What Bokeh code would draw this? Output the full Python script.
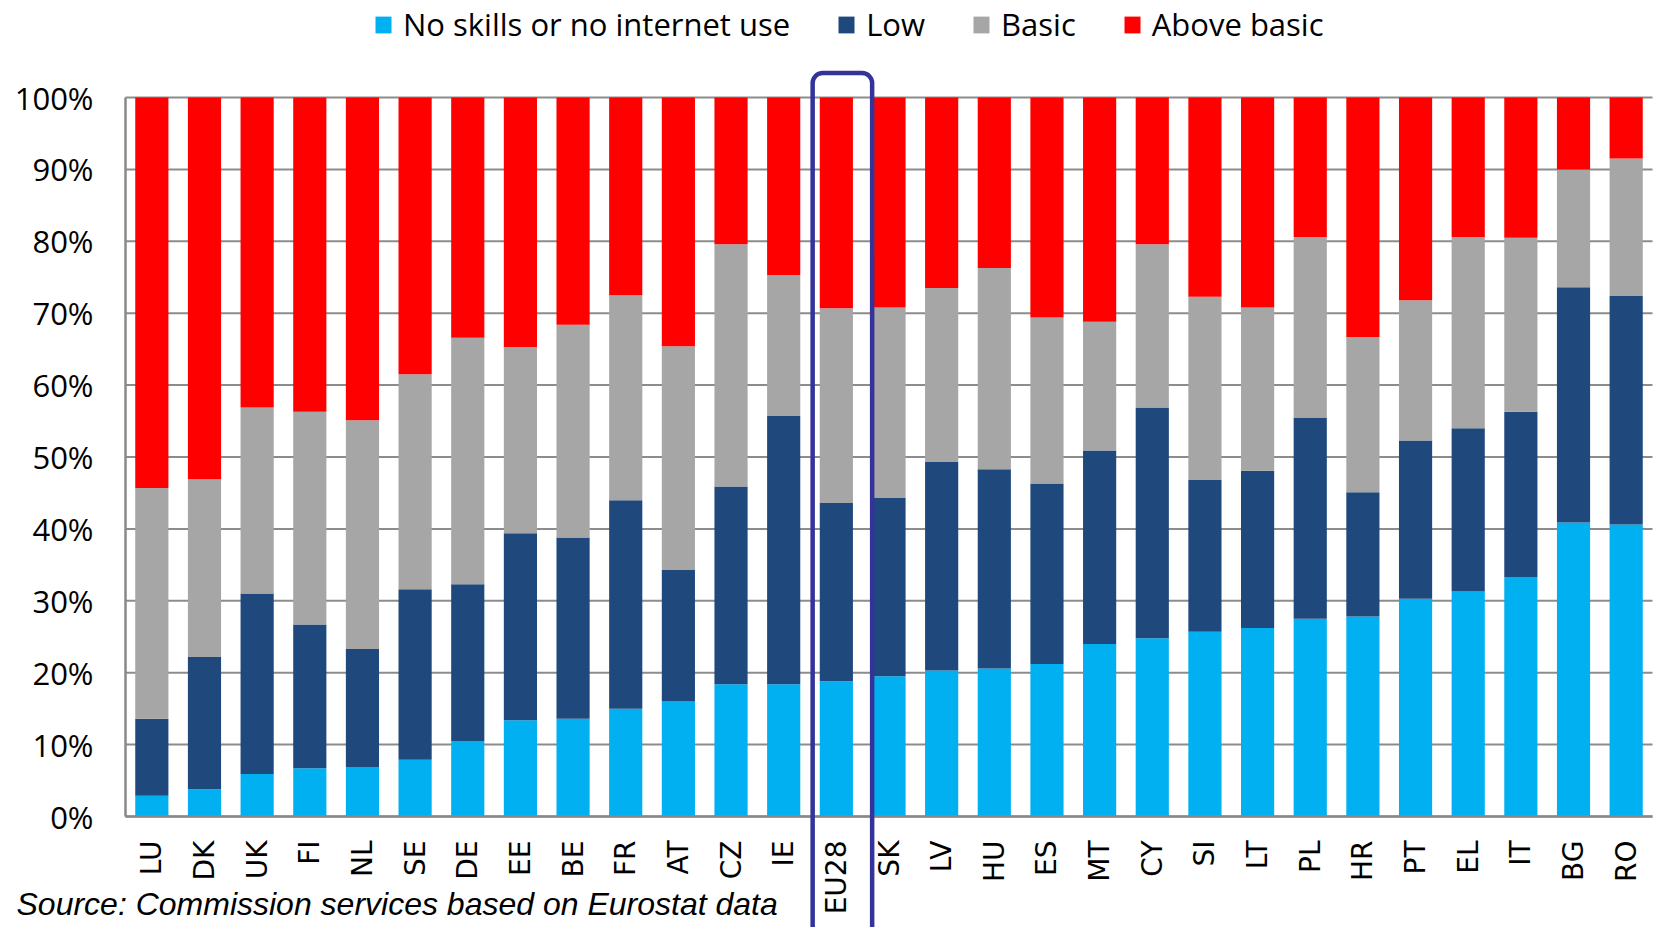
import math
from bokeh.plotting import figure
from bokeh.models import (Range1d, FixedTicker, PrintfTickFormatter,
                          Legend, LegendItem, BoxAnnotation, Label, ColumnDataSource)
from bokeh.embed import file_html
from bokeh.resources import INLINE

# ---------------- data ----------------
countries = ["LU", "DK", "UK", "FI", "NL", "SE", "DE", "EE", "BE", "FR", "AT", "CZ", "IE",
             "EU28", "SK", "LV", "HU", "ES", "MT", "CY", "SI", "LT", "PL", "HR", "PT",
             "EL", "IT", "BG", "RO"]
no_skills = [2.9, 3.8, 5.9, 6.7, 6.9, 7.9, 10.5, 13.4, 13.6, 15.0, 16.0, 18.4, 18.4,
             18.8, 19.5, 20.3, 20.6, 21.2, 24.0, 24.8, 25.7, 26.2, 27.5, 27.8, 30.3,
             31.3, 33.3, 40.9, 40.6]
low = [10.7, 18.4, 25.1, 20.0, 16.4, 23.7, 21.8, 26.0, 25.2, 29.0, 18.3, 27.5, 37.3,
       24.8, 24.8, 29.0, 27.7, 25.1, 26.9, 32.1, 21.1, 21.9, 28.0, 17.3, 22.0,
       22.7, 23.0, 32.7, 31.8]
basic = [32.1, 24.7, 25.9, 29.6, 31.8, 29.9, 34.3, 25.9, 29.6, 28.5, 31.1, 33.7, 19.6,
         27.1, 26.5, 24.2, 28.0, 23.1, 17.9, 22.7, 25.5, 22.7, 25.1, 21.6, 19.5,
         26.6, 24.2, 16.4, 19.1]
above_basic = [54.3, 53.1, 43.1, 43.7, 44.9, 38.5, 33.4, 34.7, 31.6, 27.5, 34.6, 20.4, 24.7,
               29.3, 29.2, 26.5, 23.7, 30.6, 31.2, 20.4, 27.7, 29.2, 19.4, 33.3, 28.2,
               19.4, 19.5, 10.0, 8.5]
series_names = ["No skills or no internet use", "Low", "Basic", "Above basic"]
y_ticks = [0, 10, 20, 30, 40, 50, 60, 70, 80, 90, 100]
highlight = "EU28"
source_note = "Source: Commission services based on Eurostat data"

# ---------------- layout / styles ----------------
colors = ["#00B0F0", "#1F497D", "#A6A6A6", "#FF0000"]
keys = ["none", "low", "basic", "above"]
W, H = 1658, 927
plot_left_px, plot_right_px, plot_top_px, plot_bottom_px = 125, 1652, 97, 816
n = len(countries)
px_per_cat = (plot_right_px - plot_left_px) / n
px_per_pct = (plot_bottom_px - plot_top_px) / 100.0

xs = [i + 0.5 for i in range(n)]
source = ColumnDataSource(dict(x=xs, country=countries, none=no_skills, low=low,
                               basic=basic, above=above_basic))

p = figure(x_range=Range1d(-plot_left_px / px_per_cat,
                           n + (W - plot_right_px) / px_per_cat),
           y_range=Range1d(-(H - plot_bottom_px) / px_per_pct,
                           100 + plot_top_px / px_per_pct),
           width=W, height=H,
           min_border_left=0, min_border_right=0,
           min_border_top=0, min_border_bottom=0,
           output_backend="svg", toolbar_location=None)
p.outline_line_color = None
p.background_fill_color = "white"
p.border_fill_color = "white"
p.xgrid.visible = False
p.ygrid.visible = False

# horizontal gridlines (from the y tick values), behind the bars
p.segment(x0=[0] * len(y_ticks), x1=[n] * len(y_ticks), y0=y_ticks, y1=y_ticks,
          line_color="#8C8C8C", line_width=2, level="underlay")

renderers = p.vbar_stack(keys, x="x", width=0.63, source=source,
                         fill_color=colors, line_color=None)

# axes
for ax in (p.xaxis[0], p.yaxis[0]):
    ax.axis_line_color = "#898989"
    ax.axis_line_width = 2.5
    ax.major_tick_line_color = None
    ax.minor_tick_line_color = None
    ax.major_tick_in = 0
    ax.major_tick_out = 0
    ax.minor_tick_in = 0
    ax.minor_tick_out = 0
    ax.major_label_text_color = "black"
    ax.fixed_location = 0

p.yaxis.bounds = (0, 100)
p.yaxis.ticker = FixedTicker(ticks=y_ticks, minor_ticks=[])
p.yaxis.formatter = PrintfTickFormatter(format="%d%%")
p.yaxis.major_label_text_font = "Open Sans"
p.yaxis.major_label_text_font_size = "31px"
p.yaxis.major_label_standoff = 32

p.xaxis.bounds = (0, n)
p.xaxis.ticker = FixedTicker(ticks=xs, minor_ticks=[])
p.xaxis.major_label_overrides = {x: c for x, c in zip(xs, countries)}
p.xaxis.major_label_orientation = math.pi / 2
p.xaxis.major_label_text_font = "DejaVu Sans"
p.xaxis.major_label_text_font_size = "28px"
p.xaxis.major_label_standoff = 24

# legend
items = [LegendItem(label=nm, renderers=[r]) for nm, r in zip(series_names, renderers)]
legend = Legend(items=items, orientation="horizontal", location=(373, H - 45),
                margin=0, padding=0, spacing=46, label_standoff=10,
                glyph_width=20, glyph_height=21,
                label_text_font="Open Sans", label_text_font_size="31px",
                label_text_color="black",
                border_line_color=None, background_fill_alpha=0)
p.add_layout(legend)

# highlight box around EU28
idx = countries.index(highlight)
box = BoxAnnotation(left=idx + 0.05, right=idx + 1.18, top=103.4, bottom=-30,
                    fill_color=None, fill_alpha=0, line_color="#333399", line_alpha=1.0,
                    line_width=4.5, border_radius=10, level="overlay")
p.add_layout(box)

# source note
note = Label(x=16, y=24, x_units="screen", y_units="screen", text=source_note,
             text_font="Liberation Sans", text_font_style="italic",
             text_font_size="32px", text_color="black", text_baseline="alphabetic")
p.add_layout(note)

open("out.html", "w").write(file_html(p, INLINE))
